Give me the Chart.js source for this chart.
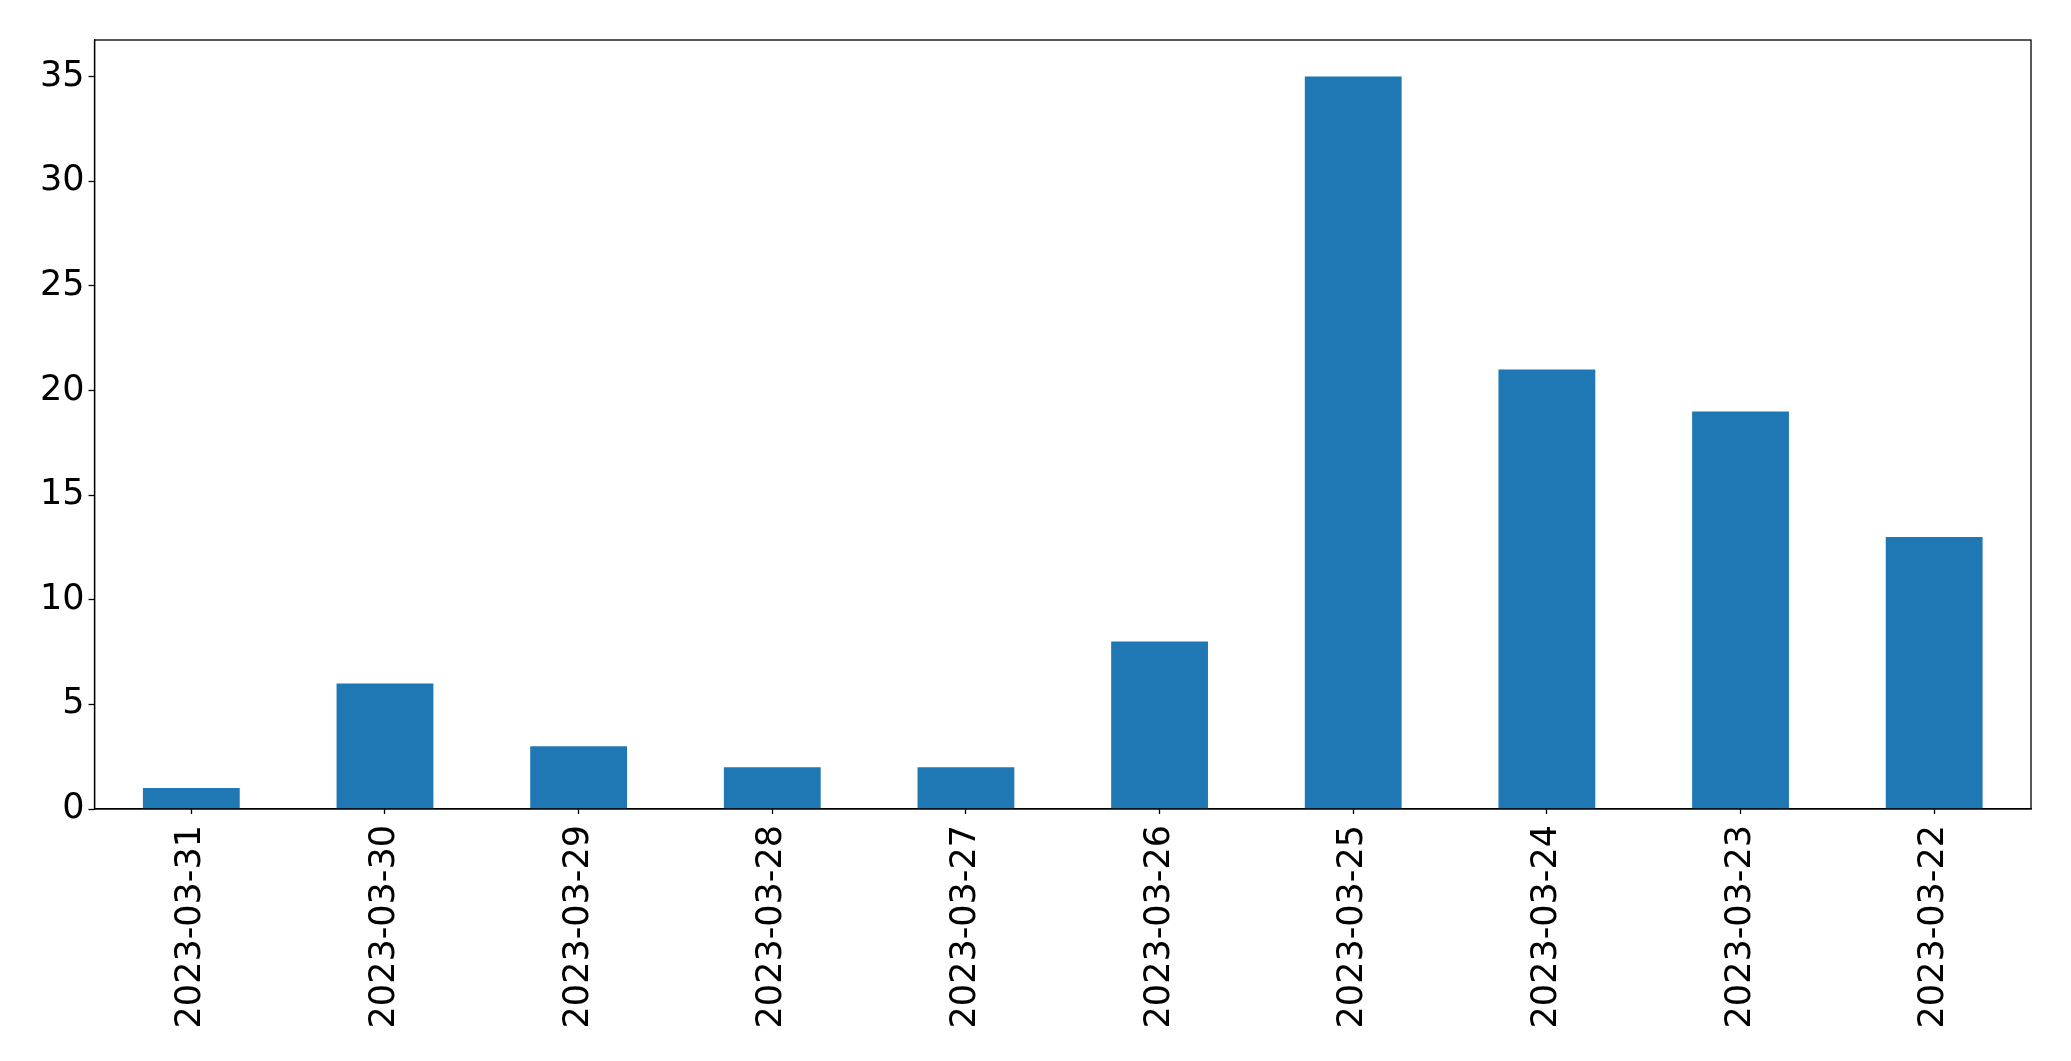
<!DOCTYPE html>
<html>
<head>
<meta charset="utf-8">
<script src="https://cdn.jsdelivr.net/npm/chart.js@4/dist/chart.umd.min.js"></script>
<style>
  html, body { margin: 0; padding: 0; background: #ffffff; }
  #c { display: block; }
</style>
</head>
<body>
<canvas id="c" width="2071" height="1061"></canvas>
<script>
const categories = ["2023-03-31","2023-03-30","2023-03-29","2023-03-28","2023-03-27","2023-03-26","2023-03-25","2023-03-24","2023-03-23","2023-03-22"];
const counts = [1, 6, 3, 2, 2, 8, 35, 21, 19, 13];
const yTicks = [0, 5, 10, 15, 20, 25, 30, 35];
const yMax = 36.75;

const frame = {
  id: 'frame',
  afterDraw(chart) {
    const a = chart.chartArea;
    const ctx = chart.ctx;
    ctx.save();
    ctx.strokeStyle = '#000';
    ctx.lineWidth = 1.3;
    ctx.strokeRect(a.left, a.top, a.right - a.left, a.bottom - a.top);
    ctx.restore();
  }
};

const FONT = { family: "'DejaVu Sans'", size: 35 };

new Chart(document.getElementById('c'), {
  type: 'bar',
  data: {
    labels: categories,
    datasets: [{
      data: counts,
      backgroundColor: '#1f77b4',
      borderWidth: 0,
      barPercentage: 0.5,
      categoryPercentage: 1.0
    }]
  },
  options: {
    responsive: false,
    devicePixelRatio: 1,
    animation: false,
    layout: { padding: { top: 40, right: 40, left: 0, bottom: 0 } },
    plugins: { legend: { display: false }, tooltip: { enabled: false } },
    scales: {
      x: {
        grid: { display: true, offset: false, drawOnChartArea: false, drawTicks: true, tickLength: 5, color: '#000', tickWidth: 1.3 },
        border: { display: true, color: '#000', width: 1.3 },
        ticks: { color: '#000', font: FONT, maxRotation: 90, minRotation: 90, padding: 11, autoSkip: false },
        afterFit(s) { s.height = 252; }
      },
      y: {
        min: 0,
        max: yMax,
        grid: { display: true, drawOnChartArea: false, drawTicks: true, tickLength: 6, color: '#000', tickWidth: 1.3 },
        border: { display: true, color: '#000', width: 1.3 },
        ticks: { color: '#000', font: FONT, padding: 4 },
        afterBuildTicks(s) { s.ticks = yTicks.map(v => ({ value: v })); },
        afterFit(s) { s.width = 94.5; }
      }
    }
  },
  plugins: [frame]
});
</script>
</body>
</html>
